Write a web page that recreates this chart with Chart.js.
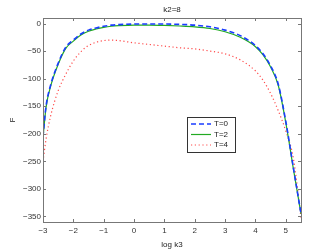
<!DOCTYPE html>
<html>
<head>
<meta charset="utf-8">
<script src="https://cdn.jsdelivr.net/npm/chart.js@4/dist/chart.umd.min.js"></script>
<style>
  html, body { margin: 0; padding: 0; background: #fff; }
  #wrap { width: 332px; height: 250px; }
</style>
</head>
<body>
<div id="wrap"><canvas id="grafico" width="332" height="250"></canvas></div>
<script>
/* datos */
const logK3 = [-3, -2.9, -2.75, -2.5, -2.25, -2, -1.75, -1.5, -1.25, -1, -0.75, -0.5, 0, 0.5, 1, 1.5, 2, 2.5, 3, 3.5, 4, 4.25, 4.5, 4.75, 5, 5.25, 5.5]
const fT0 = [-205, -150, -112, -72, -43, -30, -19, -12, -8, -5, -3, -2, -1, -1, -1, -1.5, -3, -6, -12, -22, -40, -55, -77, -110, -178, -262, -345]
const fT2 = [-207, -152, -114, -74, -45, -32, -21, -14, -10, -7, -5, -4, -3, -3, -3.5, -4.5, -6, -9, -15, -25, -42, -57, -79, -112, -180, -264, -345]
const fT4 = [-250, -210, -168, -122, -92, -68, -51, -40, -34, -31, -30, -31, -35, -38, -41, -44, -46, -50, -55, -66, -86, -103, -127, -158, -195, -245, -352]
const nombres = ["T=0", "T=2", "T=4"]
const titulo = "k2=8"
const xTicks = [-3, -2, -1, 0, 1, 2, 3, 4, 5]
const yTicks = [0, -50, -100, -150, -200, -250, -300, -350]

const fuente = "'Liberation Sans', Arial, sans-serif"

function puntos(ys) {
    return logK3.map((x, i) => ({ x: x, y: ys[i] }))
}

/* titulo, marcas hacia adentro, caja y leyenda estilo matlab */
const estiloMatlab = {
    id: "estiloMatlab",
    afterDatasetsDraw(chart) {
        const ctx = chart.ctx
        const a = chart.chartArea
        const sx = chart.scales.x
        const sy = chart.scales.y
        ctx.save()

        ctx.fillStyle = "#222"
        ctx.font = "8px " + fuente
        ctx.textAlign = "center"
        ctx.textBaseline = "middle"
        ctx.fillText(titulo, (a.left + a.right) / 2, 10)
        ctx.textAlign = "left"

        ctx.strokeStyle = "#777"
        ctx.lineWidth = 1
        ctx.beginPath()
        xTicks.forEach((t) => {
            const px = Math.round(sx.getPixelForValue(t)) + 0.5
            ctx.moveTo(px, a.bottom); ctx.lineTo(px, a.bottom - 3)
            ctx.moveTo(px, a.top); ctx.lineTo(px, a.top + 3)
        })
        yTicks.forEach((t) => {
            const py = Math.round(sy.getPixelForValue(t)) + 0.5
            ctx.moveTo(a.left, py); ctx.lineTo(a.left + 3, py)
            ctx.moveTo(a.right, py); ctx.lineTo(a.right - 3, py)
        })
        ctx.stroke()
        ctx.strokeRect(Math.round(a.left) + 0.5, Math.round(a.top) + 0.5,
            Math.round(a.right - a.left), Math.round(a.bottom - a.top))

        // leyenda
        const lx = 187, ly = 117, lw = 48, lh = 35
        ctx.fillStyle = "#fff"
        ctx.fillRect(lx, ly, lw, lh)
        ctx.strokeStyle = "#333"
        ctx.strokeRect(lx + 0.5, ly + 0.5, lw, lh)
        chart.data.datasets.forEach((ds, i) => {
            const yy = ly + 7 + i * 10.5
            ctx.strokeStyle = ds.borderColor
            ctx.lineWidth = ds.borderWidth
            ctx.setLineDash(ds.borderDash || [])
            ctx.beginPath()
            ctx.moveTo(lx + 4, yy); ctx.lineTo(lx + 24, yy)
            ctx.stroke()
            ctx.setLineDash([])
            ctx.fillStyle = "#222"
            ctx.fillText(ds.label, lx + 27, yy)
        })
        ctx.restore()
    }
}

const config = {
    type: "scatter",
    data: {
        datasets: [
            { label: nombres[0], data: puntos(fT0), showLine: true, borderColor: "#1a3cff", borderWidth: 1.6, borderDash: [5, 3], pointRadius: 0 },
            { label: nombres[1], data: puntos(fT2), showLine: true, borderColor: "#22aa22", borderWidth: 1.2, pointRadius: 0 },
            { label: nombres[2], data: puntos(fT4), showLine: true, borderColor: "#ff4c4c", borderWidth: 1.2, borderDash: [1.2, 2.6], pointRadius: 0 }
        ]
    },
    options: {
        responsive: false,
        animation: false,
        layout: { padding: { left: 0, right: 31, top: 18, bottom: 0 } },
        elements: { line: { tension: 0.4, cubicInterpolationMode: "monotone" } },
        plugins: {
            legend: { display: false },
            tooltip: { enabled: false },
            title: { display: false }
        },
        scales: {
            x: {
                type: "linear", min: -3, max: 5.5,
                afterBuildTicks: (s) => { s.ticks = xTicks.map((v) => ({ value: v })) },
                afterFit: (s) => { s.height = 28 },
                grid: { display: false, drawTicks: false },
                border: { display: false },
                ticks: { color: "#333", padding: 4, font: { family: fuente, size: 8 },
                    callback: (v) => String(v).replace("-", "\u2212") },
                title: { display: true, text: "log k3", color: "#222", padding: { top: 0, bottom: 0 },
                    font: { family: fuente, size: 8 } }
            },
            y: {
                min: -360, max: 10,
                afterBuildTicks: (s) => { s.ticks = yTicks.map((v) => ({ value: v })) },
                afterFit: (s) => { s.width = 43 },
                grid: { display: false, drawTicks: false },
                border: { display: false },
                ticks: { color: "#333", padding: 2, font: { family: fuente, size: 8 },
                    callback: (v) => String(v).replace("-", "\u2212") },
                title: { display: true, text: "F", color: "#222", padding: { top: 8, bottom: 4 },
                    font: { family: fuente, size: 8 } }
            }
        }
    },
    plugins: [estiloMatlab]
}

new Chart(document.querySelector("#grafico"), config)
</script>
</body>
</html>
